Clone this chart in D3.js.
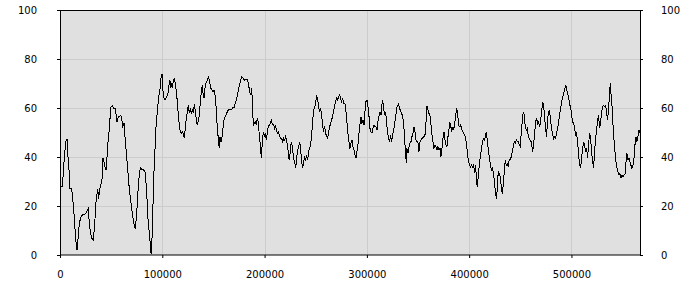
<!DOCTYPE html>
<html>
<head>
<meta charset="utf-8">
<script src="https://cdn.jsdelivr.net/npm/d3@7"></script>
<style>
  html, body { margin: 0; padding: 0; background: #ffffff; }
  svg { display: block; }
  .tick text { font-family: "DejaVu Sans", Verdana, sans-serif; font-size: 10px; fill: #000; }
</style>
</head>
<body>
<svg id="chart" width="700" height="300"></svg>
<script>
// ---- data ----
const positions = [
  0,2300,3300,4200,5500,6500,7500,7800,8800,9800,
  11400,13000,14000,15300,16600,17900,18900,20500,21800,23800,
  25400,26700,27700,28300,29600,31000,32300,33200,34200,34900,
  36200,36800,37800,38800,40100,41100,42000,43000,44000,45000,
  45900,46900,47900,48900,49900,51200,52100,53800,54700,55700,
  56700,57700,59300,60300,61300,62600,63500,64800,66100,67400,
  68800,70100,71400,72700,73600,74600,75600,76600,77500,78800,
  79800,81500,83100,84400,85400,86300,87700,88600,89300,90200,
  91000,91900,92900,93800,95100,96400,97800,99000,99700,100400,
  101000,102000,103000,104300,105600,106500,107500,108200,108800,109800,
  110800,111800,112700,113700,114700,115700,116600,117600,118600,119600,
  120600,121500,122500,123500,124500,125400,126400,127400,128400,129400,
  130300,131300,132300,133300,134200,135200,136200,137200,138200,139100,
  139800,140800,141700,142700,144000,145300,146600,147600,148600,149600,
  150500,151500,152500,153200,154100,155100,155700,156400,157400,158400,
  159300,160300,161600,162900,164500,166200,167800,169100,170100,171100,
  172400,173700,175000,176300,177600,178900,180200,181500,183400,184400,
  185400,186400,187400,188300,189000,190000,190900,191900,192900,193900,
  194800,195800,196800,197800,198800,199700,200700,201700,202700,203600,
  204600,205600,206600,207500,208900,209800,210800,211800,212800,213700,
  214700,215700,216700,217700,218600,219600,220600,221600,222500,223500,
  224500,225500,226500,227400,228400,229400,230400,231300,232300,233300,
  234300,235200,236200,237200,238200,239200,240100,241100,242100,243100,
  244000,245000,246000,247000,247900,248900,249900,250900,251900,252800,
  253800,254800,255800,256800,257700,258700,259700,260700,261600,262600,
  263600,264600,265600,266500,267500,268500,269500,270400,271400,272400,
  273400,274300,275300,276300,277300,278600,279600,280500,281500,282500,
  283500,284500,285400,286400,287400,288400,289300,290300,291300,292300,
  293300,294200,295200,296200,297200,298100,299100,300100,301100,302000,
  303000,304000,305000,306000,306900,307900,308900,309900,310800,311800,
  312800,313800,314800,315400,316400,317400,318300,319300,320300,321300,
  322200,323200,324200,325200,326200,327100,328100,329100,330100,331000,
  332000,333000,334000,335000,335900,336900,337900,338600,339200,340200,
  341100,342100,343100,344100,345100,346000,347000,348000,349000,349900,
  350900,351900,352900,353900,354800,355800,356800,357800,358700,359700,
  360700,361700,362700,363600,364600,365600,366600,367500,368500,369500,
  370500,371500,372400,373400,374400,375400,376300,377300,378300,379300,
  380200,380900,381900,382900,383800,384800,385800,386800,387700,388700,
  389700,390700,391600,392600,393600,394600,395600,396500,397500,398500,
  399500,400400,401400,402400,403400,404400,405300,406300,407300,407900,
  408900,409900,410900,411800,412800,413800,414800,415800,416700,417700,
  418700,419700,420600,421600,422600,423600,424500,425500,426500,427500,
  428400,429400,430400,431400,432400,433300,434300,435300,436300,437200,
  438200,439200,440200,441200,442100,443100,444100,445100,446000,447000,
  448000,449000,450000,450900,451900,452900,453900,454800,455800,456800,
  457800,458700,460700,462000,463000,464000,465000,465900,466900,467900,
  468900,469800,470800,471800,472800,473800,474700,475700,476700,477600,
  478600,479600,480600,481600,482600,483500,484500,485500,486500,487400,
  488400,489400,490400,491300,492300,493300,494300,495200,496200,497200,
  498200,499100,500100,501100,502100,503100,504000,505000,506000,507000,
  507900,508900,509900,510900,511900,512800,513800,514800,515800,516700,
  517700,518700,519700,520700,521600,522600,523600,524600,525500,526500,
  527500,528500,529400,530400,531400,532400,533300,534300,535300,536300,
  537300,537900,538600,539600,540600,541500,542500,543500,544500,545400,
  546400,547400,548400,549400,550300,551300,552300,553300,554200,555200,
  556200,557200,558100,559100,560100,561100,562100,563000,564000,565000,
  566000,567000
];

const values = [
  28,28,34,39.5,46,47,47,40,34.7,27,
  27,20.4,15,6.8,2,8,13,15.6,16.3,16.5,
  17,18.4,19,15,9.5,7,6,9,14.6,20.4,
  25,27,23,27,29,31,39.5,38,36,34.8,
  39.5,46,50,55.8,60.5,61,60,60,57.8,54.4,
  55.8,56.5,57,56,52.4,53.7,48.3,42.2,35.4,28.6,
  23,19,15,11.6,11,15,21,28.6,32.7,36,
  34.7,34.7,34,27.9,20.4,12.2,8,1.4,0.5,9.5,
  21.8,34,43.5,51.7,58.5,64,68,73.5,74,69,
  65.3,63.3,63.3,64.6,66,69.4,71.4,68,70,68,
  71.4,72,70,66.7,62.6,57,53,50.3,49.7,50.3,
  49.7,47.6,51.7,55.8,58.5,61,57.8,59.9,57.8,59.2,
  57.8,61.7,58.5,55,53,55,57,62.6,66.7,69.4,
  66,64,68,70,71.4,72.8,70,68,67.3,66.4,
  67.3,65.3,61,55.8,50.3,46.2,43.5,48.3,46.2,48.3,
  51.7,55,56.5,57.8,59.2,59.2,59.2,60.5,60,61.7,
  63.3,66,68.7,70.7,72.8,72.4,71.4,71.8,71.4,69.4,
  66.7,65.3,68,59.9,53,53.7,54.4,53,55.8,54.4,
  49,45,39.5,46.2,50.3,48.3,49.7,47,49.7,52.4,
  53,53.7,55,53.7,53,51.7,53,50.3,49.7,50.3,
  48.3,47.6,47.6,46.2,47.6,47,48.3,46.2,45,39.5,
  38.9,45,46.2,42.8,39.5,38,35.4,39.5,42.8,44,
  46.2,43.5,38,35.4,38,40.2,38.9,40.2,38.9,42.2,
  43.5,45,49,54.4,59.2,60,61.7,65.3,63.3,60.5,
  58.5,60,57,52.4,51,52.4,49.7,48.3,47.6,50.3,
  52.4,53.7,55,57,58.5,61,62.6,64.6,63.3,64.6,
  65.3,64,62.6,64,61.7,61.7,58.5,54.4,49.7,46.2,
  43.5,45.6,47,44,42.8,40.8,39.5,42.2,45,49.7,
  53.7,56.5,53.7,55,53,58.5,62.6,63.3,60.5,57,
  51.7,50.3,49.7,51.7,53,52.4,52.4,51,54.4,56.5,
  58.5,57,61.7,63.3,60,57,58.5,53.7,49.7,47.6,
  46.2,49,46.2,49,51,53.7,55.8,60,61,61.7,
  60,58.5,57.8,56.5,53.7,47.6,40.8,37.4,43.5,41.5,
  44,45.6,46.2,48.3,49.7,52.4,50.3,47,46.2,46.2,
  42.2,46.2,47,47.6,48,48.3,49,54.4,61,59.2,
  57.8,57,53,49,46.2,43.5,45,44.3,42.8,44.3,
  42.8,43.7,40.2,43.5,47.6,50.3,47,45,44.3,48.3,
  51,54.4,53,50.3,52.4,51,53.7,57,60,57.8,
  53,52.4,53,51.7,50.3,49.7,49,47.6,45,40.8,
  38,36.7,36,36.7,36,36.7,33.3,36.7,29.9,27.9,
  32,36.7,40.2,42.8,45.6,47.6,47,48.3,50.3,47,
  42.8,40.2,37.4,34.7,35.4,34,30.6,26.5,23,27,
  34,33.3,32,28,25,28.6,34,38.9,36.7,37.4,
  36,38.9,38.9,40.2,42.2,44.3,46.2,45.6,47,46.2,
  46.2,45,44.3,49.7,54.4,58.5,57,52.4,51,51.7,
  48.3,47.6,46.2,42.2,45,49.7,54.4,55.8,53.7,54.4,
  52.4,54.4,58.5,62.6,61,55.8,51.7,48.3,55.8,58.5,
  58.8,55,51.7,49,47.6,48.3,47.6,49.7,51.7,54.4,
  57,60,62.6,64,66,67.3,69.4,68,66,64.6,
  61,61,57,54.4,53.7,51.7,49,49.7,46.2,40.8,
  37.4,35.4,39.5,43.5,46.2,45,42.2,43.5,39.5,45,
  49.7,47.6,42.2,38,35.4,42.2,47.6,51,55,57,
  51.7,54.4,57.8,60.5,61,60.5,61,58.5,55,59.9,
  66,70,66,61,53,47.6,42.2,38,35.4,34,
  32.7,33.3,31.3,32.7,32,32.7,32.7,38,41.5,38.9,
  39.5,38,36.7,35.4,36.7,39.5,45,48.3,46.2,48.3,
  51,49.7
];

const xDomain = [0, 567000];
const yDomain = [0, 100];
const xTickValues = [0, 100000, 200000, 300000, 400000, 500000];
const yTickValues = [0, 20, 40, 60, 80, 100];

// ---- drawing ----
const margin = { left: 60, top: 10, right: 60, bottom: 45 };
const width = 700, height = 300;
const innerW = width - margin.left - margin.right;   // 580
const innerH = height - margin.top - margin.bottom;  // 245

const svg = d3.select("#chart");
const g = svg.append("g").attr("transform", `translate(${margin.left},${margin.top})`);

const x = d3.scaleLinear().domain(xDomain).range([0, innerW]);
const y = d3.scaleLinear().domain(yDomain).range([innerH, 0]);

g.append("rect")
  .attr("x", 0).attr("y", 0)
  .attr("width", innerW).attr("height", innerH)
  .attr("fill", "#e0e0e0");

// gridlines
g.append("g").selectAll("line.hg")
  .data(yTickValues.filter(v => v > yDomain[0] && v < yDomain[1]))
  .join("line")
  .attr("x1", 0).attr("x2", innerW)
  .attr("y1", d => Math.round(y(d)) + 0.5).attr("y2", d => Math.round(y(d)) + 0.5)
  .attr("stroke", "#cccccc").attr("stroke-width", 1);

g.append("g").selectAll("line.vg")
  .data(xTickValues.filter(v => v > xDomain[0] && v < xDomain[1]))
  .join("line")
  .attr("x1", d => Math.round(x(d)) + 0.5).attr("x2", d => Math.round(x(d)) + 0.5)
  .attr("y1", 0).attr("y2", innerH)
  .attr("stroke", "#cccccc").attr("stroke-width", 1);

// line
const pts = d3.zip(positions, values);
const line = d3.line().x(d => x(d[0])).y(d => y(d[1]));
g.append("path")
  .datum(pts)
  .attr("d", line)
  .attr("fill", "none")
  .attr("stroke", "#000")
  .attr("stroke-width", 1)
  .attr("stroke-linejoin", "miter")
  .attr("shape-rendering", "crispEdges");

// frame
g.append("rect")
  .attr("x", 0.5).attr("y", 0.5)
  .attr("width", innerW).attr("height", innerH - 0.5)
  .attr("fill", "none").attr("stroke", "#000").attr("stroke-width", 1);

// axes
const fmt = d3.format("d");
const left = g.append("g")
  .call(d3.axisLeft(y).tickValues(yTickValues).tickFormat(fmt).tickSize(3).tickPadding(20));
const right = g.append("g").attr("transform", `translate(${innerW},0)`)
  .call(d3.axisRight(y).tickValues(yTickValues).tickFormat(fmt).tickSize(3).tickPadding(18));
const bottom = g.append("g").attr("transform", `translate(0,${innerH})`)
  .call(d3.axisBottom(x).tickValues(xTickValues).tickFormat(fmt).tickSize(3).tickPadding(13));

[left, right, bottom].forEach(a => {
  a.select(".domain").remove();
  a.selectAll(".tick line").attr("stroke", "#000");
  a.selectAll(".tick text").attr("fill", "#000");
});
</script>
</body>
</html>
